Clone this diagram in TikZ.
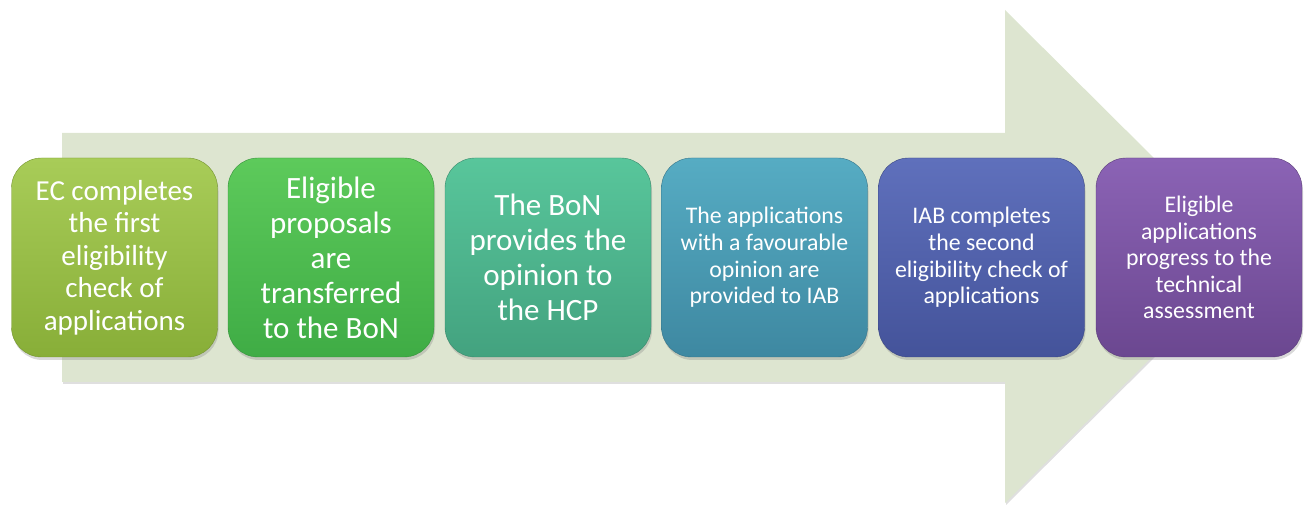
\documentclass[tikz,border=0pt]{standalone}
\usepackage{fontspec}
\setmainfont{Carlito}
\usetikzlibrary{shadows}
\definecolor{arrowfill}{HTML}{DDE5D0}
\definecolor{aT}{HTML}{A8CC58}\definecolor{aB}{HTML}{88AE38}
\definecolor{bT}{HTML}{5DCA5B}\definecolor{bB}{HTML}{3FAC45}
\definecolor{cT}{HTML}{58C69B}\definecolor{cB}{HTML}{43A27F}
\definecolor{dT}{HTML}{56ACC3}\definecolor{dB}{HTML}{3E88A1}
\definecolor{eT}{HTML}{5F70BC}\definecolor{eB}{HTML}{44539A}
\definecolor{fT}{HTML}{8B63B5}\definecolor{fB}{HTML}{6B4790}
\tikzset{
  stepbox/.style={rounded corners=30pt, minimum width=206pt, minimum height=199pt,
    text=white, align=center, inner sep=0pt,
    drop shadow={shadow xshift=1pt, shadow yshift=-3pt, opacity=0.3}},
  bigfont/.style={font=\fontsize{29}{32.5}\selectfont},
  bigerfont/.style={font=\fontsize{31}{35}\selectfont},
  smallfont/.style={font=\fontsize{23.8}{26.6}\selectfont},
}
\begin{document}
\begin{tikzpicture}[x=1pt,y=1pt]
\useasboundingbox (0,0) rectangle (1309,508);
% big arrow
\fill[arrowfill, drop shadow={shadow xshift=1pt, shadow yshift=-2pt, opacity=0.25}]
  (62,375) -- (1005,375) -- (1005,498) -- (1253,251.5) -- (1005,5) -- (1005,126) -- (62,126) -- cycle;
% steps
\node[stepbox, bigfont, top color=aT, bottom color=aB, draw=aB!85!black] (s1) at (114.5,250.5)
  {EC completes\\the first\\eligibility\\check of\\applications};
\node[stepbox, bigerfont, top color=bT, bottom color=bB, draw=bB!85!black] (s2) at (331,250.5)
  {Eligible\\proposals\\are\\transferred\\to the BoN};
\node[stepbox, bigerfont, top color=cT, bottom color=cB, draw=cB!85!black] (s3) at (548,250.5)
  {The BoN\\provides the\\opinion to\\the HCP};
\node[stepbox, smallfont, top color=dT, bottom color=dB, draw=dB!85!black] (s4) at (764.5,250.5)
  {The applications\\with a favourable\\opinion are\\provided to IAB};
\node[stepbox, smallfont, top color=eT, bottom color=eB, draw=eB!85!black] (s5) at (981.5,250.5)
  {IAB completes\\the second\\eligibility check of\\applications};
\node[stepbox, smallfont, top color=fT, bottom color=fB, draw=fB!85!black] (s6) at (1199,250.5)
  {Eligible\\applications\\progress to the\\technical\\assessment};
\end{tikzpicture}
\end{document}
